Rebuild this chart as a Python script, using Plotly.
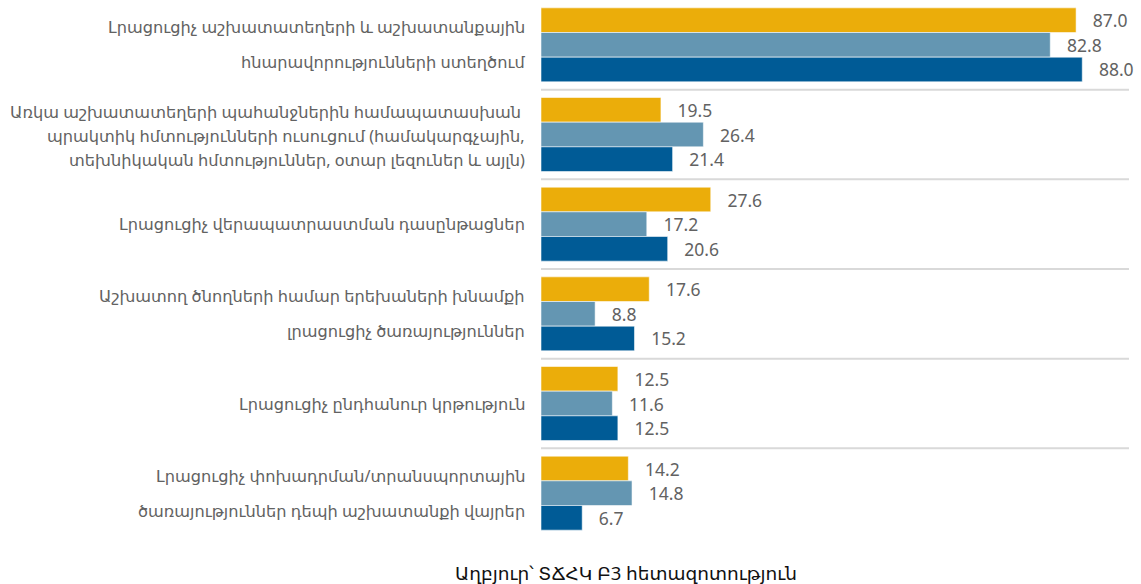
import plotly.graph_objects as go

# Category labels (line breaks marked with "\n")
categories = [
    "Լրացուցիչ աշխատատեղերի և աշխատանքային\nհնարավորությունների ստեղծում",
    "Առկա աշխատատեղերի պահանջներին համապատասխան \nպրակտիկ հմտությունների ուսուցում (համակարգչային,\nտեխնիկական հմտություններ, օտար լեզուներ և այլն)",
    "Լրացուցիչ վերապատրաստման դասընթացներ",
    "Աշխատող ծնողների համար երեխաների խնամքի\nլրացուցիչ ծառայություններ",
    "Լրացուցիչ ընդհանուր կրթություն",
    "Լրացուցիչ փոխադրման/տրանսպորտային\nծառայություններ դեպի աշխատանքի վայրեր",
]

series_names = ["Շարք 1", "Շարք 2", "Շարք 3"]
series_1 = [87.0, 19.5, 27.6, 17.6, 12.5, 14.2]
series_2 = [82.8, 26.4, 17.2, 8.8, 11.6, 14.8]
series_3 = [88.0, 21.4, 20.6, 15.2, 12.5, 6.7]
series_colors = ["#EBAD0A", "#6496B2", "#005B96"]

source_note = "Աղբյուր՝ ՏՃՀԿ Բ3 հետազոտություն"

label_font = "Noto Sans, DejaVu Sans, sans-serif"
text_gray = "#626262"

fig = go.Figure()
for name, vals, color in zip(series_names, [series_1, series_2, series_3], series_colors):
    fig.add_trace(go.Bar(
        y=list(range(len(categories))),
        x=vals,
        name=name,
        orientation="h",
        marker=dict(color=color, line=dict(color="rgba(255,255,255,0.55)", width=1)),
        text=[f"{v:.1f}" for v in vals],
        texttemplate="   %{text}",
        textposition="outside",
        constraintext="none",
        cliponaxis=False,
        textfont=dict(family=label_font, size=17.5, color=text_gray),
        showlegend=False,
        hoverinfo="skip",
    ))

# Category labels, one annotation per line
for i, cat in enumerate(categories):
    lines = cat.split("\n")
    n = len(lines)
    spacing = 35 if n == 2 else 24
    for j, line in enumerate(lines):
        offset = (j - (n - 1) / 2) * spacing
        fig.add_annotation(
            x=0, xref="paper", y=i, yref="y",
            text=line, showarrow=False,
            xanchor="right", yanchor="middle",
            xshift=-14, yshift=-offset - (1 if n == 3 else 0),
            font=dict(family=label_font, size=16.2, color=text_gray),
        )

# Separator lines between groups
for i in range(len(categories) - 1):
    fig.add_shape(
        type="line", xref="paper", yref="y",
        x0=0, x1=1, y0=i + 0.5, y1=i + 0.5,
        line=dict(color="#D9D9D9", width=2),
    )

fig.add_annotation(
    x=0.1446, xref="paper", y=0, yref="paper",
    text=source_note, showarrow=False,
    xanchor="center", yanchor="middle", yshift=-34,
    font=dict(family=label_font, size=18.5, color="#111111"),
)

fig.update_layout(
    width=1141, height=584,
    margin=dict(l=541, r=12, t=0, b=46),
    paper_bgcolor="white", plot_bgcolor="white",
    barmode="group", bargap=0.175, bargroupgap=0,
)
fig.update_xaxes(range=[0, 95.6], visible=False)
fig.update_yaxes(range=[len(categories) - 0.5, -0.5], visible=False)

fig.write_html("out.html")
